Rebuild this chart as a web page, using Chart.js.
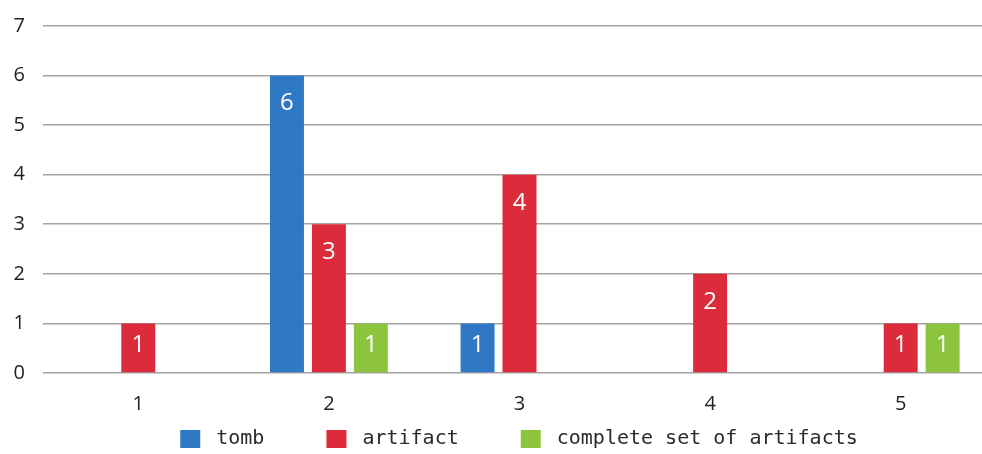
<!DOCTYPE html>
<html>
<head>
<meta charset="utf-8">
<script src="https://cdn.jsdelivr.net/npm/chart.js@4.4.1/dist/chart.umd.min.js"></script>
<style>
  html, body { margin: 0; padding: 0; background: #fff; }
  #wrap { width: 982px; height: 454px; overflow: hidden; position: relative; }
</style>
</head>
<body>
<div id="wrap"><canvas id="chart" width="996" height="454"></canvas></div>
<script>
// data
const categories = ['1', '2', '3', '4', '5'];
const seriesNames = ['tomb', 'artifact', 'complete set of artifacts'];
const tombValues = [0, 6, 1, 0, 0];
const artifactValues = [1, 3, 4, 2, 1];
const completeSetValues = [0, 1, 0, 0, 1];
const yTicks = [0, 1, 2, 3, 4, 5, 6, 7];
const colors = ['#2e78c6', '#dc2b3b', '#8cc43e'];

// legend marker: blank space on the left, colour square on the right
function marker(color) {
  const c = document.createElement('canvas');
  c.width = 78;
  c.height = 18;
  const g = c.getContext('2d');
  g.fillStyle = color;
  g.fillRect(52, 0, 20, 18);
  return c;
}
const markers = colors.map(marker);

// white numbers inside the top of each bar
const barLabels = {
  id: 'barLabels',
  afterDatasetsDraw(chart) {
    const ctx = chart.ctx;
    ctx.save();
    ctx.fillStyle = '#ffffff';
    ctx.font = '24px "Open Sans", sans-serif';
    ctx.textAlign = 'center';
    ctx.textBaseline = 'middle';
    chart.data.datasets.forEach((ds, i) => {
      chart.getDatasetMeta(i).data.forEach((bar, j) => {
        const v = ds.data[j];
        if (!v) return;
        const mid = (bar.y + bar.base) / 2;
        const y = Math.min(bar.y + 28, mid - 3);
        ctx.fillText(String(v), bar.x, y);
      });
    });
    ctx.restore();
  }
};

// move the legend a little
const legendShift = {
  id: 'legendShift',
  afterLayout(chart) {
    const lg = chart.legend;
    lg.left -= 5; lg.right -= 5;
    lg.top += 5; lg.bottom += 5;
  }
};

new Chart(document.getElementById('chart'), {
  type: 'bar',
  data: {
    labels: categories,
    datasets: [
      { label: seriesNames[0], data: tombValues, backgroundColor: colors[0] },
      { label: seriesNames[1], data: artifactValues, backgroundColor: colors[1] },
      { label: seriesNames[2], data: completeSetValues, backgroundColor: colors[2] }
    ]
  },
  options: {
    responsive: false,
    animation: false,
    categoryPercentage: 0.66,
    barPercentage: 0.81,
    layout: { padding: { top: 26, left: 0, right: 0, bottom: 0 } },
    plugins: {
      tooltip: { enabled: false },
      legend: {
        position: 'bottom',
        labels: {
          usePointStyle: true,
          pointStyleWidth: 78,
          boxHeight: 18,
          padding: 10,
          color: '#2a2a2a',
          font: { family: '"DejaVu Sans Mono", monospace', size: 20 },
          generateLabels(chart) {
            const items = Chart.defaults.plugins.legend.labels.generateLabels(chart);
            items.forEach((it, i) => { it.pointStyle = markers[i]; });
            return items;
          }
        }
      }
    },
    scales: {
      x: {
        afterFit(scale) { scale.height = 41; },
        grid: { display: false, drawTicks: false },
        border: { display: false },
        ticks: { color: '#222', padding: 19, font: { family: '"Open Sans", sans-serif', size: 20 } }
      },
      y: {
        min: 0,
        max: yTicks[yTicks.length - 1],
        afterFit(scale) { scale.width = 43; scale.paddingTop = 0; scale.paddingBottom = 0; },
        afterBuildTicks(scale) { scale.ticks = yTicks.map(v => ({ value: v })); },
        grid: { color: '#a3a3a3', lineWidth: 1.6, drawTicks: false },
        border: { display: false },
        ticks: { color: '#222', padding: 18, font: { family: '"Open Sans", sans-serif', size: 20 } }
      }
    }
  },
  plugins: [barLabels, legendShift]
});
</script>
</body>
</html>
